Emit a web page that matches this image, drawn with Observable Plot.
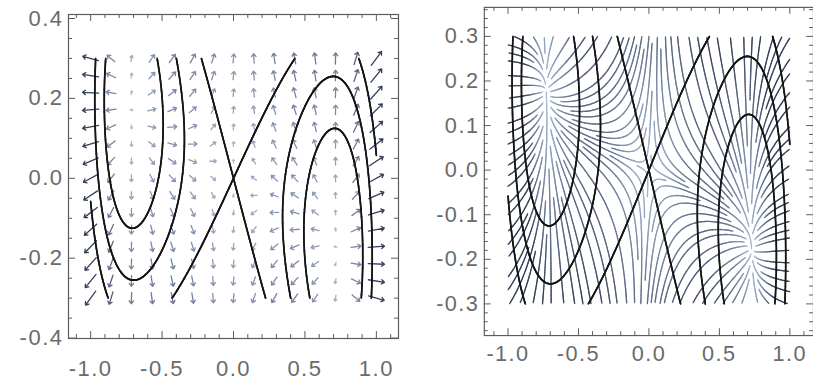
<!DOCTYPE html>
<html>
<head>
<meta charset="utf-8">
<script src="https://cdn.jsdelivr.net/npm/d3@7"></script>
<script src="https://cdn.jsdelivr.net/npm/@observablehq/plot@0.6"></script>
<style>
  html, body { margin: 0; padding: 0; background: #fff; overflow: hidden; }
  #wrap { position: relative; width: 813px; height: 381px; overflow: hidden; }
  #left { position: absolute; left: 0; top: 0; }
  #right { position: absolute; left: 405px; top: 0; }
  svg text { letter-spacing: 1.5px; }
</style>
</head>
<body>
<div id="wrap"><div id="left"></div><div id="right"></div></div>
<script>
// Double-well surface H(x, y) = (y + A sin(w x))^2 - C x^2 (1 - x^2 / xc^2)
const bowlCoef = [0.2, 1.475, 1.147, 1.03];         // A, w, C, xc
const sampleX = [-1, 1];                             // sampled region, x
const sampleY = [-0.3, 0.3];                         // sampled region, y
const vectorCount = [15, 15];                        // arrow grid (columns, rows)
const leftLevels = [-0.2145, -0.1203, 0];
const rightLevels = [-0.2145, -0.1203, 0];
const leftXTicks = [-1, -0.5, 0, 0.5, 1];
const leftYTicks = [-0.4, -0.2, 0, 0.2, 0.4];
const rightXTicks = [-1, -0.5, 0, 0.5, 1];
const rightYTicks = [-0.3, -0.2, -0.1, 0, 0.1, 0.2, 0.3];
const leftMinorX = d3.range(-11, 12).map(i => i / 10);
const leftMinorY = d3.range(-8, 9).map(i => i / 20);
const rightMinorX = d3.range(-11, 12).map(i => i / 10);
const rightMinorY = d3.range(-18, 19).map(i => i / 50);

const [cA, cW, cC, cX] = bowlCoef;
const shift = x => cA * Math.sin(cW * x);
const shiftD = x => cA * cW * Math.cos(cW * x);
const well = x => cC * x * x * (1 - x * x / (cX * cX));
const wellD = x => 2 * cC * x - 4 * cC * x ** 3 / (cX * cX);
const H = (x, y) => (y + shift(x)) ** 2 - well(x);
const field = (x, y) => {
  const q = y + shift(x);
  return [2 * q * shiftD(x) - wellD(x), 2 * q];
};

const ink = "#5c5c5c";
const lightArrow = "#a9bbd6", darkArrow = "#34405a";
const shade = (m, lo, hi) => d3.interpolateRgb(lightArrow, darkArrow)(Math.max(0, Math.min(1, (m - lo) / (hi - lo))));

// open level curves (marching squares), returned as short segments
function isolines(f, xr, yr, nx, ny, levels) {
  const xs = d3.range(nx + 1).map(i => xr[0] + (xr[1] - xr[0]) * i / nx);
  const ys = d3.range(ny + 1).map(j => yr[0] + (yr[1] - yr[0]) * j / ny);
  const v = ys.map(y => xs.map(x => f(x, y)));
  const segs = [];
  for (const t of levels) {
    for (let j = 0; j < ny; j++) for (let i = 0; i < nx; i++) {
      const a = v[j][i] - t, b = v[j][i + 1] - t, c = v[j + 1][i + 1] - t, d = v[j + 1][i] - t;
      const A = [xs[i], ys[j]], B = [xs[i + 1], ys[j]], C = [xs[i + 1], ys[j + 1]], D = [xs[i], ys[j + 1]];
      const pts = [];
      const edge = (p, q, P, Q) => {
        if ((p < 0) !== (q < 0)) { const s = p / (p - q); pts.push([P[0] + s * (Q[0] - P[0]), P[1] + s * (Q[1] - P[1])]); }
        else pts.push(null);
      };
      edge(a, b, A, B); edge(b, c, B, C); edge(c, d, C, D); edge(d, a, D, A);
      const hit = pts.filter(p => p);
      const add = (p, q) => segs.push({x1: p[0], y1: p[1], x2: q[0], y2: q[1]});
      if (hit.length === 2) add(hit[0], hit[1]);
      else if (hit.length === 4) {
        const m = (a + b + c + d) / 4;
        if ((m < 0) === (a < 0)) { add(pts[0], pts[1]); add(pts[2], pts[3]); }
        else { add(pts[0], pts[3]); add(pts[1], pts[2]); }
      }
    }
  }
  return segs;
}

function frameMarks(xd, yd, pxX, pxY, majX, majY, minX, minY, labelGapX) {
  const lenMaj = 7, lenMin = 4;
  const mx = l => l / pxX, my = l => l / pxY;
  const inX = v => v >= xd[0] && v <= xd[1];
  const inY = v => v >= yd[0] && v <= yd[1];
  const mnX = minX.filter(v => inX(v) && !majX.some(m => Math.abs(m - v) < 1e-9));
  const mnY = minY.filter(v => inY(v) && !majY.some(m => Math.abs(m - v) < 1e-9));
  const tickStyle = {stroke: ink, strokeWidth: 1};
  return [
    Plot.ruleX(majX, {x: d => d, y1: yd[0], y2: yd[0] + my(lenMaj), ...tickStyle}),
    Plot.ruleX(majX, {x: d => d, y1: yd[1], y2: yd[1] - my(lenMaj), ...tickStyle}),
    Plot.ruleX(mnX, {x: d => d, y1: yd[0], y2: yd[0] + my(lenMin), ...tickStyle}),
    Plot.ruleX(mnX, {x: d => d, y1: yd[1], y2: yd[1] - my(lenMin), ...tickStyle}),
    Plot.ruleY(majY, {y: d => d, x1: xd[0], x2: xd[0] + mx(lenMaj), ...tickStyle}),
    Plot.ruleY(majY, {y: d => d, x1: xd[1], x2: xd[1] - mx(lenMaj), ...tickStyle}),
    Plot.ruleY(mnY, {y: d => d, x1: xd[0], x2: xd[0] + mx(lenMin), ...tickStyle}),
    Plot.ruleY(mnY, {y: d => d, x1: xd[1], x2: xd[1] - mx(lenMin), ...tickStyle}),
    Plot.frame({stroke: ink, strokeWidth: 1.2}),
    Plot.text(majX, {x: d => d, y: yd[0], text: d => d.toFixed(1), dy: labelGapX, lineAnchor: "top", fill: "#6a6a6a"}),
    Plot.text(majY, {x: xd[0], y: d => d, text: d => d.toFixed(1), textAnchor: "end", dx: -5, fill: "#6a6a6a"})
  ];
}

// thin arrow with a small head
const thinArrow = {
  draw(context, l) {
    const w = Math.min(2.2, l / 4);
    context.moveTo(0, 0);
    context.lineTo(0, -l);
    context.moveTo(-w, -l + w * 1.3);
    context.lineTo(0, -l);
    context.lineTo(w, -l + w * 1.3);
  }
};

// ---- left panel: arrow field with level curves ----
{
  const W = 406, Ht = 381, ml = 68, mr = 8, mt = 14, mb = 43;
  const xd = [-1.155, 1.155], yd = [-0.401, 0.41];
  const pxX = (W - ml - mr) / (xd[1] - xd[0]), pxY = (Ht - mt - mb) / (yd[1] - yd[0]);
  const gx = d3.range(vectorCount[0]).map(i => sampleX[0] + i * (sampleX[1] - sampleX[0]) / (vectorCount[0] - 1));
  const gy = d3.range(vectorCount[1]).map(j => sampleY[0] + j * (sampleY[1] - sampleY[0]) / (vectorCount[1] - 1));
  const arrows = gx.flatMap(x => gy.map(y => {
    const [u, v] = field(x, y);
    const angle = Math.atan2(u * pxX, v * pxY) * 180 / Math.PI;
    const mag = Math.hypot(u, v);
    return {x, y, angle, mag, color: shade(mag, 0.1, 1.7)};
  }));
  const curves = isolines(H, sampleX, sampleY, 500, 200, leftLevels);
  const chart = Plot.plot({
    width: W, height: Ht, marginLeft: ml, marginRight: mr, marginTop: mt, marginBottom: mb,
    x: {domain: xd, axis: null}, y: {domain: yd, axis: null},
    length: {type: "sqrt", domain: [0, 2.5], range: [0, 18]},
    style: {fontFamily: "Liberation Sans, Arial, sans-serif", fontSize: "22px", background: "white"},
    marks: [
      Plot.vector(arrows, {x: "x", y: "y", rotate: "angle", length: "mag", anchor: "middle", shape: thinArrow, stroke: "color", strokeWidth: 1.3}),
      Plot.link(curves, {x1: "x1", y1: "y1", x2: "x2", y2: "y2", stroke: "#151515", strokeWidth: 1.7, strokeLinecap: "round"}),
      ...frameMarks(xd, yd, pxX, pxY, leftXTicks, leftYTicks, leftMinorX, leftMinorY, 22)
    ]
  });
  document.getElementById("left").append(chart);
}

// ---- right panel: stream lines with level curves ----
function traceStreams(F, xr, yr, sx, sy, sep) {
  const W = (xr[1] - xr[0]) * sx, Hp = (yr[1] - yr[0]) * sy;
  const cs = sep, nc = Math.ceil(W / cs) + 2, nr = Math.ceil(Hp / cs) + 2;
  const cells = Array.from({length: nc * nr}, () => []);
  const put = (X, Y) => cells[Math.floor(Y / cs) * nc + Math.floor(X / cs)].push([X, Y]);
  const clear = (X, Y, d) => {
    const i0 = Math.floor(X / cs), j0 = Math.floor(Y / cs);
    for (let j = j0 - 1; j <= j0 + 1; j++) for (let i = i0 - 1; i <= i0 + 1; i++) {
      if (i < 0 || j < 0 || i >= nc || j >= nr) continue;
      for (const [a, b] of cells[j * nc + i]) if ((a - X) ** 2 + (b - Y) ** 2 < d * d) return false;
    }
    return true;
  };
  const dir = (X, Y) => {
    const [u, v] = F(xr[0] + X / sx, yr[0] + Y / sy);
    const a = u * sx, b = v * sy, m = Math.hypot(a, b);
    return m < 1e-7 ? null : [a / m, b / m];
  };
  const inside = (X, Y) => X >= 0 && X <= W && Y >= 0 && Y <= Hp;
  const h = 0.8, dtest = sep * 0.5;
  function half(X, Y, s) {
    const pts = [];
    for (let n = 0; n < 1200; n++) {
      const d1 = dir(X, Y); if (!d1) break;
      const d2 = dir(X + s * d1[0] * h / 2, Y + s * d1[1] * h / 2); if (!d2) break;
      if (d1[0] * d2[0] + d1[1] * d2[1] < 0) break;
      const nx = X + s * d2[0] * h, ny = Y + s * d2[1] * h;
      if (!inside(nx, ny) || !clear(nx, ny, dtest)) break;
      X = nx; Y = ny; pts.push([X, Y]);
    }
    return pts;
  }
  const lines = [], queue = [];
  function tryLine(X, Y) {
    if (!inside(X, Y) || !clear(X, Y, sep)) return;
    const f = half(X, Y, 1), b = half(X, Y, -1);
    const pts = b.reverse().concat([[X, Y]], f);
    if (pts.length < 8) return;
    pts.forEach(([a, c]) => put(a, c));
    lines.push(pts); queue.push(pts);
  }
  function drain() {
    while (queue.length) {
      const pts = queue.shift();
      for (let i = 1; i < pts.length - 1; i += 3) {
        const dx = pts[i + 1][0] - pts[i - 1][0], dy = pts[i + 1][1] - pts[i - 1][1], m = Math.hypot(dx, dy) || 1;
        tryLine(pts[i][0] - dy / m * sep, pts[i][1] + dx / m * sep);
        tryLine(pts[i][0] + dy / m * sep, pts[i][1] - dx / m * sep);
      }
    }
  }
  for (let Y = sep / 2; Y < Hp; Y += sep / 2) for (let X = sep / 2; X < W; X += sep / 2) { tryLine(X, Y); drain(); }
  return lines.map(pts => pts.map(([X, Y]) => [xr[0] + X / sx, yr[0] + Y / sy]));
}

{
  const W = 414, Ht = 381, ml = 80, mr = 0, mt = 7, mb = 41;
  const xd = [-1.168, 1.168], yd = [-0.371, 0.365];
  const pxX = (W - ml - mr) / (xd[1] - xd[0]), pxY = (Ht - mt - mb) / (yd[1] - yd[0]);
  const streams = traceStreams(field, sampleX, sampleY, pxX, pxY, 7.5);
  const segs = [];
  streams.forEach(line => {
    for (let i = 0; i + 2 < line.length; i += 2) {
      const [x1, y1] = line[i], [x2, y2] = line[i + 2];
      const m = Math.hypot(...field((x1 + x2) / 2, (y1 + y2) / 2));
      segs.push({x1, y1, x2, y2, color: shade(m, 0.05, 0.95)});
    }
  });
  const curves = isolines(H, sampleX, sampleY, 500, 200, rightLevels);
  const chart = Plot.plot({
    width: W, height: Ht, marginLeft: ml, marginRight: mr, marginTop: mt, marginBottom: mb,
    x: {domain: xd, axis: null}, y: {domain: yd, axis: null},
    style: {fontFamily: "Liberation Sans, Arial, sans-serif", fontSize: "22px", background: "white", overflow: "visible"},
    marks: [
      Plot.link(segs, {x1: "x1", y1: "y1", x2: "x2", y2: "y2", stroke: "color", strokeWidth: 1.3, strokeLinecap: "round"}),
      Plot.link(curves, {x1: "x1", y1: "y1", x2: "x2", y2: "y2", stroke: "#151515", strokeWidth: 1.7, strokeLinecap: "round"}),
      ...frameMarks(xd, yd, pxX, pxY, rightXTicks, rightYTicks, rightMinorX, rightMinorY, 10)
    ]
  });
  document.getElementById("right").append(chart);
}
</script>
</body>
</html>
